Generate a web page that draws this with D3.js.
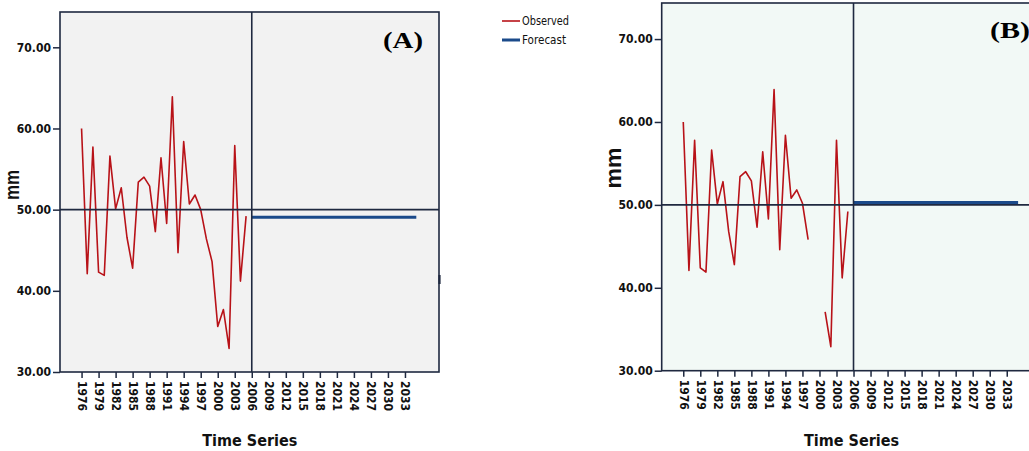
<!DOCTYPE html>
<html><head><meta charset="utf-8">
<script src="https://cdn.jsdelivr.net/npm/d3@7"></script>
<style>body{margin:0;background:#fff} svg{display:block}</style>
</head><body>
<svg id="c" width="1029" height="451"></svg>
<script>
// ---- data ----
const obsYears   = [1976,1977,1978,1979,1980,1981,1982,1983,1984,1985,1986,1987,1988,1989,1990,1991,1992,1993,1994,1995,1996,1997,1998,1999,2000,2001,2002,2003,2004,2005];
const observedA  = [60.0,42.1,57.7,42.3,41.9,56.6,50.1,52.7,46.6,42.8,53.4,54.0,52.9,47.3,56.4,48.3,63.9,44.7,58.4,50.7,51.8,50.0,46.4,43.6,35.6,37.7,32.9,57.9,41.2,49.2];
const observedB  = [60.0,42.1,57.8,42.4,41.9,56.6,50.1,52.8,46.8,42.8,53.4,54.0,52.9,47.3,56.4,48.3,63.9,44.6,58.4,50.8,51.8,50.2,45.8,null,null,37.1,32.9,57.8,41.2,49.2];
const forecastYears = [2006, 2035];
const forecastA  = [49.05, 49.05];
const forecastB  = [50.3, 50.3];
const yTicks     = [30,40,50,60,70];
const xTicks     = [1976,1979,1982,1985,1988,1991,1994,1997,2000,2003,2006,2009,2012,2015,2018,2021,2024,2027,2030,2033];
const xDomain    = [1972.2, 2039];
const yDomain    = [30, 74.35];
const refValue   = 50;
const refYear    = 2006;
const legendLabels = ["Observed","Forecast"];
const panelLabels  = ["(A)","(B)"];

const svg = d3.select("#c");
const narrow = "'Liberation Sans Narrow','DejaVu Sans Condensed','Arial Narrow',sans-serif";
const frameCol = "#1f2940";

function drawPanel(p){
  const x = d3.scaleLinear().domain(xDomain).range([p.left, p.right]);
  const y = d3.scaleLinear().domain(yDomain).range([p.bottom, p.top]);
  const g = svg.append("g");
  g.append("rect").attr("x",p.left).attr("y",p.top).attr("width",p.right-p.left).attr("height",p.bottom-p.top).attr("fill",p.bg);
  const line = d3.line().defined(d=>d[1]!=null).x(d=>x(d[0])).y(d=>y(d[1]));
  g.append("path").datum(obsYears.map((yr,i)=>[yr,p.obs[i]])).attr("d",line)
    .attr("fill","none").attr("stroke","#b81218").attr("stroke-width",1.6).attr("stroke-linejoin","round");
  g.append("path").datum(forecastYears.map((yr,i)=>[yr,p.fc[i]])).attr("d",line)
    .attr("fill","none").attr("stroke","#1b4a8a").attr("stroke-width",3);
  // reference lines
  g.append("line").attr("x1",p.left).attr("x2",p.right).attr("y1",y(refValue)).attr("y2",y(refValue))
    .attr("stroke",frameCol).attr("stroke-width",1.8);
  g.append("line").attr("x1",x(refYear)).attr("x2",x(refYear)).attr("y1",p.top).attr("y2",p.bottom)
    .attr("stroke",frameCol).attr("stroke-width",1.6);
  // frame
  g.append("rect").attr("x",p.left).attr("y",p.top).attr("width",p.right-p.left).attr("height",p.bottom-p.top)
    .attr("fill","none").attr("stroke",frameCol).attr("stroke-width",1.6);
  // y axis
  const ya = g.append("g").attr("transform",`translate(${p.left},0)`)
    .call(d3.axisLeft(y).tickValues(yTicks).tickFormat(d3.format(".2f")).tickSize(7).tickPadding(2));
  ya.select(".domain").remove();
  ya.selectAll("line").attr("stroke",frameCol).attr("stroke-width",1.5);
  ya.selectAll("text").attr("font-family",narrow).attr("font-weight","bold").attr("font-size",12).attr("fill","#111");
  // x axis
  const xa = g.append("g").attr("transform",`translate(0,${p.bottom})`)
    .call(d3.axisBottom(x).tickValues(xTicks).tickFormat(d=>String(d)).tickSize(6));
  xa.select(".domain").remove();
  xa.selectAll("line").attr("stroke",frameCol).attr("stroke-width",1.5);
  xa.selectAll("text").attr("font-family",narrow).attr("font-weight","bold").attr("font-size",12).attr("fill","#111")
    .attr("transform","rotate(90)").attr("x",9).attr("y",0).attr("dy","0.35em").style("text-anchor","start");
  // axis titles
  g.append("text").attr("x",x(p.titleYear)-2).attr("y",446).attr("text-anchor","middle")
    .attr("font-family",narrow).attr("font-weight","bold").attr("font-size",16).attr("fill","#111").text("Time Series");
  g.append("text").attr("transform",`translate(${p.mmX},${p.mmY}) rotate(-90)`).attr("text-anchor","middle")
    .attr("font-family","'Liberation Sans',Arial,sans-serif").attr("font-weight","bold").attr("font-size",p.mmSize)
    .attr("textLength",p.mmLen).attr("lengthAdjust","spacingAndGlyphs").attr("fill","#111").text("mm");
  g.append("text").attr("x",p.labX).attr("y",p.labY)
    .attr("font-family","'Liberation Serif','Times New Roman',serif").attr("font-weight","bold").attr("font-size",24)
    .attr("textLength",p.labLen).attr("lengthAdjust","spacingAndGlyphs").attr("fill","#000").text(p.label);
}

drawPanel({left:60, right:439, top:12, bottom:372, bg:"#f2f2f2", obs:observedA, fc:forecastA,
  titleYear:2006, mmX:19, mmY:185, mmSize:20, mmLen:30, labX:383, labY:48, labLen:40, label:panelLabels[0]});
drawPanel({left:661.7, right:1040.8, top:3, bottom:370.7, bg:"#f2f9f6", obs:observedB, fc:forecastB,
  titleYear:2006, mmX:621, mmY:168, mmSize:22, mmLen:41, labX:990, labY:38, labLen:40, label:panelLabels[1]});

// small frame artifact on panel A right edge
svg.append("line").attr("x1",439.5).attr("x2",439.5).attr("y1",275).attr("y2",284).attr("stroke",frameCol).attr("stroke-width",2.2);

// legend
const lg = svg.append("g");
const legCols = ["#b81218","#1b4a8a"], legW = [1.6,3], legLen = [47,44];
legendLabels.forEach((t,i)=>{
  const yy = 21 + i*19;
  lg.append("line").attr("x1",502).attr("x2",520).attr("y1",yy).attr("y2",yy).attr("stroke",legCols[i]).attr("stroke-width",legW[i]);
  lg.append("text").attr("x",522).attr("y",yy).attr("dy","0.35em").attr("font-family",narrow).attr("font-size",12.5)
    .attr("textLength",legLen[i]).attr("lengthAdjust","spacingAndGlyphs").attr("fill","#111").text(t);
});
</script>
</body></html>
